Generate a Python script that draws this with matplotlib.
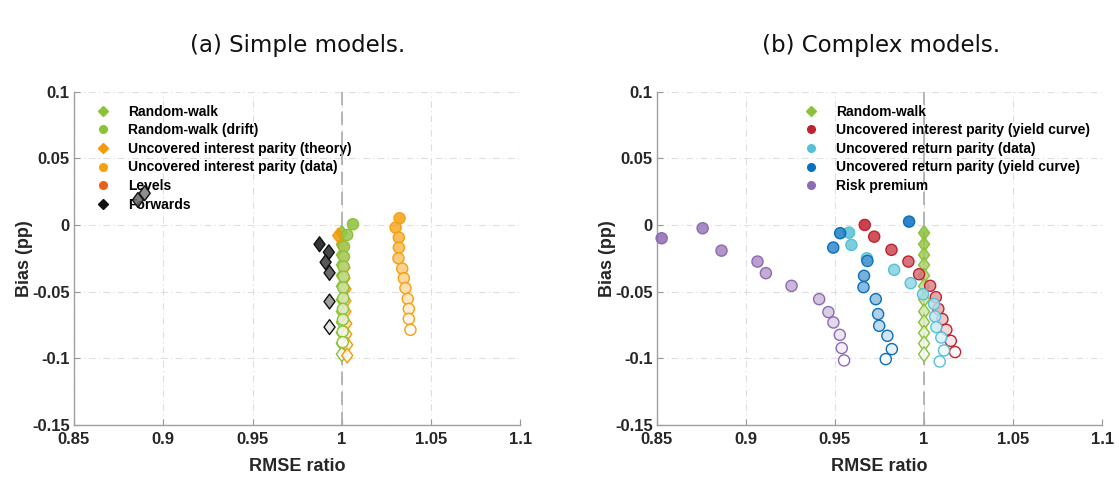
import matplotlib
matplotlib.use('Agg')
import matplotlib.pyplot as plt
from matplotlib.lines import Line2D
from matplotlib.path import Path
from matplotlib.colors import to_rgb

# ---- (a) simple models ----
rw_x = [1.0, 1.0, 1.0, 1.0, 1.0, 1.0, 1.0, 1.0, 1.0, 1.0, 1.0, 1.0]
rw_y = [-0.006, -0.0145, -0.0225, -0.030, -0.038, -0.046, -0.056, -0.065, -0.073, -0.081, -0.089, -0.097]

drift_x = [1.0062, 1.003, 1.0012, 1.0012, 1.001, 1.001, 1.0008, 1.0008, 1.0006, 1.0006, 1.0005, 1.0005]
drift_y = [0.0005, -0.0075, -0.0163, -0.0238, -0.0313, -0.0388, -0.047, -0.055, -0.063, -0.071, -0.080, -0.088]

uipt_x = [0.998, 1.0005, 1.001, 1.0015, 1.0015, 1.002, 1.002, 1.002, 1.0025, 1.0025, 1.003, 1.003]
uipt_y = [-0.008, -0.016, -0.024, -0.032, -0.040, -0.048, -0.057, -0.065, -0.074, -0.082, -0.090, -0.098]

uipd_x = [1.0323, 1.0301, 1.0319, 1.0319, 1.0317, 1.0338, 1.0347, 1.0356, 1.0369, 1.0375, 1.0375, 1.0384]
uipd_y = [0.005, -0.002, -0.0095, -0.017, -0.025, -0.0328, -0.040, -0.0474, -0.0555, -0.063, -0.0705, -0.0787]

levels_x = []  # outside the plotted range
levels_y = []

fwd_x = [0.9875, 0.9927, 0.9909, 0.9931, 0.8858, 0.8896, 0.9931, 0.9931]
fwd_y = [-0.0145, -0.0205, -0.028, -0.036, 0.0187, 0.0238, -0.0575, -0.0767]
fwd_h = [0, 1, 2, 3, 4, 5, 6, 10]

# ---- (b) complex models ----
uipyc_x = [0.9667, 0.972, 0.9817, 0.9912, 0.9972, 1.0034, 1.0066, 1.008, 1.0103, 1.0125, 1.015, 1.0174]
uipyc_y = [0.0, -0.0088, -0.0187, -0.0275, -0.037, -0.0457, -0.0542, -0.063, -0.0707, -0.0787, -0.087, -0.0954]

urpd_x = [0.9579, 0.9592, 0.9679, 0.9832, 0.9925, 0.9994, 1.0056, 1.0062, 1.0069, 1.0097, 1.0112, 1.0088]
urpd_y = [-0.0058, -0.015, -0.025, -0.0337, -0.0437, -0.052, -0.0594, -0.0687, -0.0767, -0.0845, -0.0942, -0.1025]

urpyc_x = [0.9916, 0.9529, 0.949, 0.9682, 0.9663, 0.966, 0.9729, 0.9742, 0.9748, 0.9794, 0.9819, 0.9785]
urpyc_y = [0.0025, -0.0062, -0.017, -0.027, -0.0382, -0.0467, -0.0557, -0.0669, -0.0757, -0.0832, -0.0932, -0.1007]

rp_x = [0.8527, 0.8757, 0.8863, 0.9065, 0.9112, 0.9256, 0.9411, 0.9463, 0.9491, 0.9527, 0.9538, 0.9551]
rp_y = [-0.010, -0.0025, -0.0193, -0.0275, -0.0362, -0.0457, -0.0557, -0.0654, -0.0732, -0.0825, -0.0924, -0.1017]

x_ticks = [0.85, 0.9, 0.95, 1, 1.05, 1.1]
x_ticklabels = ['0.85', '0.9', '0.95', '1', '1.05', '1.1']
y_ticks = [-0.15, -0.1, -0.05, 0, 0.05, 0.1]
y_ticklabels = ['-0.15', '-0.1', '-0.05', '0', '0.05', '0.1']

GREEN = '#8cc13a'
ORANGE_T = '#f59a0a'
ORANGE_D = '#f5a011'
LEVELS = '#e8601c'
BLACK = '#111111'
RED = '#c0222f'
CYAN = '#56c1d6'
BLUE = '#0a6fbd'
PURPLE = '#8e6ab3'

DIAMOND = Path([(0, 1), (0.74, 0), (0, -1), (-0.74, 0), (0, 1)],
               [Path.MOVETO, Path.LINETO, Path.LINETO, Path.LINETO, Path.CLOSEPOLY])

plt.rcParams['font.family'] = ['Liberation Sans', 'DejaVu Sans']


def faded(color, h, n=12):
    t = h / (n - 1) * 0.97
    r, g, b = to_rgb(color)
    return (r + (1 - r) * t, g + (1 - g) * t, b + (1 - b) * t, 0.85)


def scatter_series(ax, xs, ys, color, marker, hs=None):
    if hs is None:
        hs = list(range(len(xs)))
    faces = [faded(color, h) for h in hs]
    size = 115 if marker is DIAMOND else 64
    ax.scatter(xs, ys, s=size, marker=marker, facecolors=faces,
               edgecolors=color, linewidths=1.0, zorder=3, clip_on=False)


def style_axes(ax):
    ax.set_xlim(0.85, 1.1)
    ax.set_ylim(-0.15, 0.1)
    ax.set_xticks(x_ticks)
    ax.set_xticklabels(x_ticklabels)
    ax.set_yticks(y_ticks)
    ax.set_yticklabels(y_ticklabels)
    for lab in ax.get_xticklabels() + ax.get_yticklabels():
        lab.set_fontweight('bold')
        lab.set_fontsize(12)
        lab.set_color('#262626')
    ax.tick_params(direction='in', length=4, color='#999999')
    ax.tick_params(axis='x', pad=5)
    ax.tick_params(axis='y', pad=3)
    for s in ['top', 'right']:
        ax.spines[s].set_visible(False)
    for s in ['left', 'bottom']:
        ax.spines[s].set_color('#a0a0a0')
        ax.spines[s].set_linewidth(1.0)
    ax.grid(True, color='#dedede', linestyle=(0, (6, 3, 1, 3)), linewidth=0.8)
    ax.set_axisbelow(True)
    ax.axvline(1.0, color='#aaaaaa', linestyle=(0, (8, 4)), linewidth=1.2, zorder=2)
    ax.set_xlabel('RMSE ratio', fontsize=13, fontweight='bold', color='#262626', labelpad=8)
    ax.set_ylabel('Bias (pp)', fontsize=13, fontweight='bold', color='#262626', labelpad=-1)


def legend_handle(color, marker, label):
    return Line2D([], [], linestyle='none', marker=marker, markersize=5.5,
                  markerfacecolor=color, markeredgecolor=color, label=label)


fig = plt.figure(figsize=(11.19, 4.8), dpi=100)
ax1 = fig.add_axes([0.0661, 0.115, 0.399, 0.694])
ax2 = fig.add_axes([0.587, 0.115, 0.398, 0.694])

legend_kw = dict(loc='upper left', frameon=False, prop={'weight': 'bold', 'size': 10},
                 handlelength=1.2, handletextpad=1.2, labelspacing=0.33, borderpad=0.2)

# (a)
style_axes(ax1)
scatter_series(ax1, rw_x, rw_y, GREEN, DIAMOND)
scatter_series(ax1, uipt_x, uipt_y, ORANGE_T, DIAMOND)
scatter_series(ax1, drift_x, drift_y, GREEN, 'o')
scatter_series(ax1, uipd_x, uipd_y, ORANGE_D, 'o')
if levels_x:
    scatter_series(ax1, levels_x, levels_y, LEVELS, 'o')
scatter_series(ax1, fwd_x, fwd_y, BLACK, DIAMOND, fwd_h)

h1 = [legend_handle(GREEN, 'D', 'Random-walk'),
      legend_handle(GREEN, 'o', 'Random-walk (drift)'),
      legend_handle(ORANGE_T, 'D', 'Uncovered interest parity (theory)'),
      legend_handle(ORANGE_D, 'o', 'Uncovered interest parity (data)'),
      legend_handle(LEVELS, 'o', 'Levels'),
      legend_handle(BLACK, 'D', 'Forwards')]
leg1 = ax1.legend(handles=h1, bbox_to_anchor=(0.024, 0.99), **legend_kw)
leg1.set_zorder(1)

# (b)
style_axes(ax2)
scatter_series(ax2, rw_x, rw_y, GREEN, DIAMOND)
scatter_series(ax2, uipyc_x, uipyc_y, RED, 'o')
scatter_series(ax2, urpd_x, urpd_y, CYAN, 'o')
scatter_series(ax2, urpyc_x, urpyc_y, BLUE, 'o')
scatter_series(ax2, rp_x, rp_y, PURPLE, 'o')

h2 = [legend_handle(GREEN, 'D', 'Random-walk'),
      legend_handle(RED, 'o', 'Uncovered interest parity (yield curve)'),
      legend_handle(CYAN, 'o', 'Uncovered return parity (data)'),
      legend_handle(BLUE, 'o', 'Uncovered return parity (yield curve)'),
      legend_handle(PURPLE, 'o', 'Risk premium')]
ax2.legend(handles=h2, bbox_to_anchor=(0.305, 0.99), **legend_kw)

fig.text(0.2656, 0.906, '(a) Simple models.', ha='center', va='center', fontsize=16.5,
         color='#111111', family='DejaVu Sans')
fig.text(0.7876, 0.906, '(b) Complex models.', ha='center', va='center', fontsize=16.5,
         color='#111111', family='DejaVu Sans')

fig.savefig('out.png', dpi=100)
